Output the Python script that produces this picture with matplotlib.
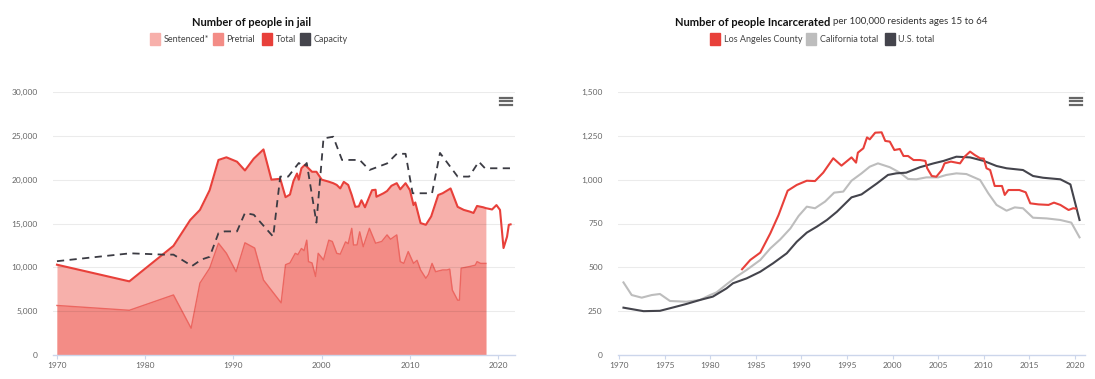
import numpy as np
import matplotlib
matplotlib.use("Agg")
import matplotlib.pyplot as plt
from matplotlib.patches import Rectangle
from matplotlib.lines import Line2D
from matplotlib.ticker import FuncFormatter

plt.rcParams["font.family"] = ["Lato", "DejaVu Sans"]

# =========================
# DATA
# =========================
# left chart: number of people in jail
total_years = [1970.0, 1978.2, 1983.2, 1985.1, 1986.2, 1987.3, 1988.3, 1989.2, 1990.4, 1991.3,
               1992.3, 1993.4, 1994.3, 1995.3, 1995.9, 1996.4, 1996.8, 1997.2, 1997.4, 1997.7,
               1998.1, 1998.5, 1998.9, 1999.4, 1999.8, 2000.0, 2000.7, 2001.3, 2001.7, 2002.1,
               2002.5, 2003.0, 2003.4, 2003.8, 2004.2, 2004.5, 2004.9, 2005.7, 2006.1, 2006.2,
               2007.0, 2007.4, 2007.9, 2008.5, 2008.9, 2009.5, 2010.0, 2010.4, 2010.6, 2011.2,
               2011.8, 2012.4, 2013.2, 2013.7, 2014.6, 2015.4, 2016.1, 2016.8, 2017.2, 2017.6,
               2018.3, 2018.6, 2019.3, 2019.8, 2020.2, 2020.6, 2021.0, 2021.2, 2021.4]
total_jail = [10300, 8400, 12450, 15400, 16550, 18800, 22250, 22550, 22050, 21050,
              22400, 23450, 20000, 20100, 18000, 18300, 19850, 20700, 20000, 21300,
              21700, 21300, 20900, 20900, 20300, 20000, 19800, 19600, 19400, 19000,
              19750, 19400, 18250, 16900, 16950, 17650, 16850, 18800, 18850, 18050,
              18450, 18700, 19300, 19600, 18900, 19600, 18800, 17100, 17400, 15050,
              14850, 15800, 18250, 18450, 19000, 16900, 16550, 16350, 16200, 17000,
              16850, 16750, 16600, 17100, 16550, 12200, 13500, 14850, 14900]
AREA_END = 2018.6  # stacked areas stop here, the total line continues

pretrial_years = [1970.0, 1978.2, 1983.2, 1985.2, 1986.2, 1987.3, 1988.3, 1989.2, 1990.3, 1991.3,
                  1992.4, 1993.4, 1995.4, 1995.9, 1996.4, 1997.0, 1997.3, 1997.7, 1998.0, 1998.3,
                  1998.5, 1998.9, 1999.3, 1999.6, 2000.2, 2000.8, 2001.2, 2001.7, 2002.1, 2002.7,
                  2003.0, 2003.4, 2003.6, 2004.0, 2004.3, 2004.7, 2005.4, 2006.1, 2006.8, 2007.4,
                  2007.8, 2008.5, 2008.9, 2009.3, 2009.8, 2010.4, 2010.8, 2011.2, 2011.8, 2012.1,
                  2012.5, 2012.9, 2013.7, 2014.2, 2014.5, 2014.8, 2015.4, 2015.6, 2015.8, 2016.8,
                  2017.4, 2017.6, 2018.0, 2018.6]
pretrial = [5650, 5100, 6850, 3050, 8200, 9900, 12750, 11600, 9500, 12800,
            12200, 8550, 5950, 10300, 10500, 11600, 11450, 12150, 11900, 13100,
            10650, 10500, 8950, 11600, 10850, 13100, 12950, 11600, 11500, 12900,
            12700, 14450, 12550, 12550, 14050, 12350, 14450, 12750, 12950, 13700,
            13200, 13700, 10650, 10450, 11800, 10450, 10800, 9700, 8750, 9200,
            10450, 9500, 9700, 9700, 9800, 7400, 6250, 6250, 9900, 10100,
            10250, 10650, 10450, 10450]

capacity_years = [1970.0, 1978.3, 1982.1, 1983.2, 1985.3, 1986.4, 1987.3, 1988.3, 1989.0, 1990.4,
                  1991.3, 1992.3, 1994.5, 1995.3, 1996.2, 1997.4, 1998.0, 1998.3, 1999.4, 2000.2,
                  2001.3, 2002.3, 2004.3, 2005.4, 2007.4, 2008.5, 2009.5, 2010.3, 2012.5, 2013.4,
                  2015.4, 2016.7, 2017.8, 2018.5, 2021.4]
capacity = [10700, 11600, 11450, 11450, 10150, 10900, 11200, 13900, 14100, 14100,
            16200, 16000, 13500, 20350, 20350, 21900, 21500, 21900, 15100, 24700,
            24900, 22250, 22250, 21100, 21850, 22950, 22950, 18450, 18450, 23050,
            20350, 20350, 22050, 21300, 21300]

# right chart: incarceration rate per 100,000 residents ages 15-64
la_years = [1983.5, 1984.4, 1985.5, 1986.6, 1987.5, 1988.5, 1989.5, 1990.6, 1991.5, 1992.4,
            1993.5, 1994.4, 1995.5, 1996.0, 1996.2, 1996.8, 1997.2, 1997.5, 1998.1, 1998.8,
            1999.2, 1999.7, 2000.2, 2000.8, 2001.2, 2001.7, 2002.3, 2003.0, 2003.6, 2003.8,
            2004.3, 2004.8, 2005.4, 2005.7, 2006.4, 2007.4, 2007.9, 2008.5, 2009.0, 2009.6,
            2010.0, 2010.3, 2010.7, 2011.2, 2012.0, 2012.3, 2012.7, 2013.2, 2013.9, 2014.6,
            2015.1, 2016.0, 2017.1, 2017.7, 2018.4, 2019.3, 2019.8, 2020.1]
la_rate = [489, 542, 584, 694, 798, 937, 970, 994, 992, 1040,
           1122, 1080, 1127, 1097, 1154, 1179, 1241, 1230, 1268, 1270,
           1221, 1217, 1169, 1175, 1135, 1135, 1112, 1112, 1107, 1065,
           1021, 1017, 1055, 1093, 1103, 1093, 1131, 1160, 1141, 1122,
           1120, 1065, 1055, 964, 964, 913, 941, 941, 941, 928,
           865, 859, 856, 869, 856, 827, 837, 835]

ca_years = [1970.5, 1971.4, 1972.5, 1973.6, 1974.5, 1975.6, 1977.4, 1978.9, 1980.0, 1980.7,
            1981.8, 1982.9, 1984.0, 1985.5, 1986.6, 1987.7, 1988.8, 1989.7, 1990.6, 1991.5,
            1992.6, 1993.6, 1994.6, 1995.5, 1996.6, 1997.5, 1998.4, 1999.7, 2000.8, 2001.7,
            2002.6, 2003.7, 2005.0, 2005.9, 2007.0, 2008.1, 2009.6, 2010.5, 2011.4, 2012.5,
            2013.4, 2014.3, 2015.4, 2016.9, 2018.4, 2019.6, 2020.5]
ca_rate = [414, 342, 327, 342, 348, 308, 304, 314, 342, 357,
           403, 447, 485, 542, 608, 660, 722, 793, 846, 837,
           875, 926, 932, 994, 1036, 1074, 1093, 1071, 1040, 1004,
           1002, 1013, 1013, 1027, 1036, 1032, 998, 922, 856, 823,
           842, 837, 783, 779, 770, 755, 671]

us_years = [1970.5, 1972.7, 1974.5, 1976.0, 1977.4, 1978.9, 1980.3, 1981.8, 1982.5, 1984.0,
            1985.5, 1986.9, 1988.4, 1989.5, 1990.6, 1991.7, 1992.8, 1993.9, 1995.5, 1996.6,
            1998.3, 1999.5, 2000.4, 2001.5, 2003.0, 2004.5, 2005.6, 2007.0, 2008.5, 2010.0,
            2011.4, 2012.5, 2014.3, 2015.4, 2016.5, 2018.4, 2019.5, 2020.5]
us_rate = [270, 250, 252, 272, 291, 314, 333, 380, 409, 437,
           475, 523, 580, 646, 698, 732, 770, 817, 899, 916,
           979, 1027, 1036, 1040, 1071, 1093, 1107, 1131, 1127, 1107,
           1078, 1065, 1055, 1021, 1011, 1002, 973, 770]

LEFT_TITLE = "Number of people in jail"
LEFT_LEGEND = ["Sentenced*", "Pretrial", "Total", "Capacity"]
RIGHT_TITLE_BOLD = "Number of people Incarcerated"
RIGHT_TITLE_REST = "per 100,000 residents ages 15 to 64"
RIGHT_LEGEND = ["Los Angeles County", "California total", "U.S. total"]

# =========================
# STYLE
# =========================
C_SENT = "#f7b0ab"
C_PRE = "#f38c86"
C_PRE_EDGE = "#ec6660"
C_RED = "#e8403a"
C_DARK = "#44444c"
C_GRAY = "#bdbdbd"
TICK_C = "#666666"
GRID_C = "#e8e8e8"
AXIS_C = "#ccd6eb"

W, H = 1095, 379
fig = plt.figure(figsize=(W / 100, H / 100), dpi=100)


def px_axes(x0, x1, y0, y1):
    return fig.add_axes([x0 / W, 1 - y1 / H, (x1 - x0) / W, (y1 - y0) / H])


def style_axes(ax, ymax, ystep, xticks):
    ax.set_ylim(0, ymax)
    ax.set_yticks(np.arange(0, ymax + 1, ystep))
    ax.yaxis.set_major_formatter(FuncFormatter(lambda v, p: f"{int(v):,}"))
    ax.set_xticks(xticks)
    for s in ["top", "right", "left"]:
        ax.spines[s].set_visible(False)
    ax.spines["bottom"].set_color(AXIS_C)
    ax.spines["bottom"].set_linewidth(1)
    ax.tick_params(axis="y", length=0, pad=11, labelsize=6, labelcolor=TICK_C)
    ax.tick_params(axis="x", length=3, color=AXIS_C, pad=2, labelsize=6, labelcolor=TICK_C)
    for v in np.arange(ystep, ymax + 1, ystep):
        ax.axhline(v, color="black", alpha=0.08, lw=0.8, zorder=4)


def menu_icon(xc, yc):
    for dy in (-3.5, 0, 3.5):
        fig.add_artist(Line2D([(xc - 6) / W, (xc + 6) / W], [1 - (yc + dy) / H] * 2,
                              color="#666666", lw=1.6, transform=fig.transFigure))


def legend_row(items, x_start, y, gaps):
    x = x_start
    for (label, color), width in zip(items, gaps):
        fig.add_artist(Rectangle((x / W, 1 - (y + 6) / H), 10 / W, 12 / H,
                                 color=color, transform=fig.transFigure))
        fig.text((x + 13.5) / W, 1 - y / H, label, fontsize=6.5, color="#444444",
                 va="center", ha="left")
        x += width


# ---- left chart ----
ax1 = px_axes(53, 515, 92, 355)
ty = np.array(total_years)
tv = np.array(total_jail)
m = ty <= AREA_END
ax1.fill_between(ty[m], 0, tv[m], color=C_SENT, lw=0, zorder=1)
ax1.fill_between(pretrial_years, 0, pretrial, color=C_PRE, lw=0, zorder=2)
ax1.plot(pretrial_years, pretrial, color=C_PRE_EDGE, lw=1, zorder=3)
ax1.plot(total_years, total_jail, color=C_RED, lw=1.5, zorder=5)
ax1.plot(capacity_years, capacity, color="#3b3b43", lw=1.3, dashes=(4, 3), zorder=6)
ax1.set_xlim(1969.55, 2021.9)
style_axes(ax1, 30000, 5000, [1970, 1980, 1990, 2000, 2010, 2020])

fig.text(252 / W, 1 - 22 / H, LEFT_TITLE, fontsize=8, fontweight="bold",
         color="#111111", ha="center", va="center")
legend_row(list(zip(LEFT_LEGEND, [C_SENT, C_PRE, C_RED, C_DARK])), 150, 39, [63, 49, 38, 0])
menu_icon(506, 101)

# ---- right chart ----
ax2 = px_axes(618, 1085, 92, 355)
ax2.plot(ca_years, ca_rate, color=C_GRAY, lw=1.5, zorder=5)
ax2.plot(us_years, us_rate, color=C_DARK, lw=1.5, zorder=5)
ax2.plot(la_years, la_rate, color=C_RED, lw=1.5, zorder=6)
ax2.set_xlim(1969.9, 2021.1)
style_axes(ax2, 1500, 250, [1970, 1975, 1980, 1985, 1990, 1995, 2000, 2005, 2010, 2015, 2020])

fig.text(830 / W, 1 - 22 / H, RIGHT_TITLE_BOLD, fontsize=8, fontweight="bold",
         color="#111111", ha="right", va="center")
fig.text(833 / W, 1 - 22 / H, RIGHT_TITLE_REST, fontsize=7, color="#333333",
         ha="left", va="center")
legend_row(list(zip(RIGHT_LEGEND, [C_RED, C_GRAY, C_DARK])), 710, 39, [96, 79, 0])
menu_icon(1076, 101)

fig.savefig("out.png", dpi=100)
